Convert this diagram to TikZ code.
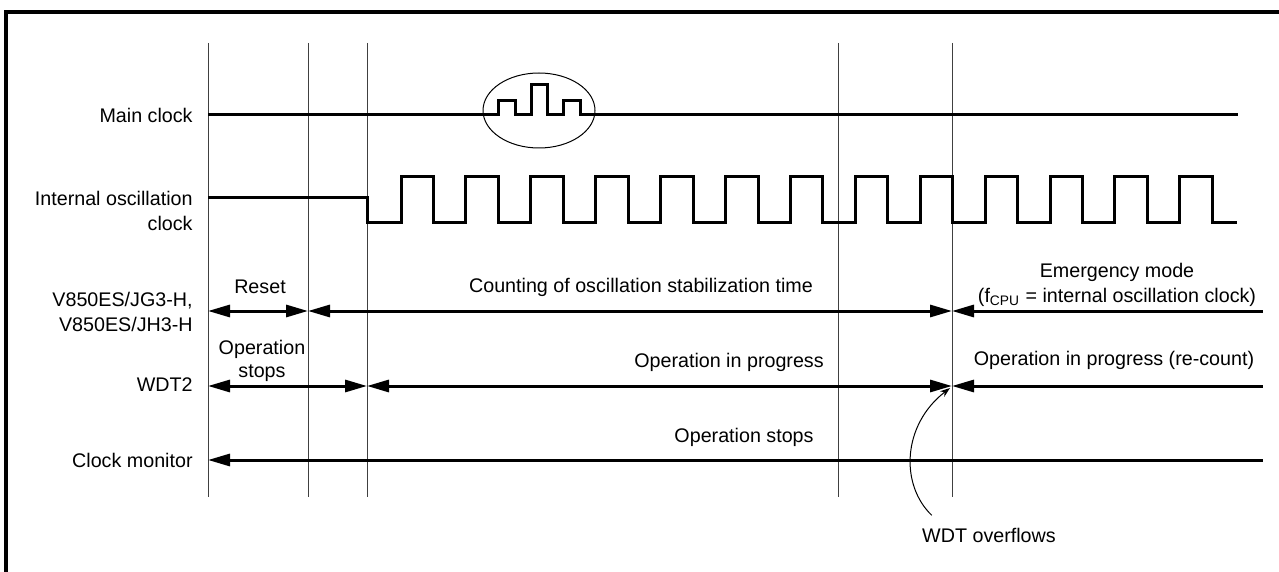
\documentclass[tikz,border=0pt]{standalone}
\usepackage{fontspec}
\setmainfont{Liberation Sans}
\usetikzlibrary{arrows.meta}

\begin{document}
\begin{tikzpicture}[x=0.5pt,y=-0.5pt,
  every node/.style={inner sep=0pt,font=\fontsize{9.85pt}{12.5pt}\selectfont},
  grid/.style={black!75,line width=0.5pt},
  signal/.style={line width=1.5pt},
  span/.style={line width=1.5pt,{Triangle[length=11pt,width=6pt]}-{Triangle[length=11pt,width=6pt]}},
  lspan/.style={line width=1.5pt,{Triangle[length=11pt,width=6pt]}-}]
\useasboundingbox (0,0) rectangle (1279,572);
\draw[line width=1.7pt] (1300,12) -- (6,12) -- (6,600);

% time marks and rows
\foreach \n/\x in {0/208,1/308,2/367,3/838,4/952}{
  \coordinate (t\n) at (\x,0);
  \draw[grid] (\x,43) -- (\x,497);
}
\coordinate (tend) at (1263,0);
\coordinate (rmain) at (0,115);  \coordinate (rcpu) at (0,311);
\coordinate (rwdt) at (0,386);   \coordinate (rmon) at (0,460);

\node[anchor=east] (lmain) at (193,115) {Main clock};
\node[anchor=east,align=right] (losc) at (193,211) {Internal oscillation\\clock};
\node[anchor=east,align=right] (lcpu) at (193,312) {V850ES/JG3-H,\\V850ES/JH3-H};
\node[anchor=east] (lwdt) at (193,385) {WDT2};
\node[anchor=east] (lmon) at (193,460) {Clock monitor};

% waveforms
\draw[signal] (t0 |- rmain) -- (498,115) -- ++(0,-14) -- ++(17,0) -- ++(0,14)
  -- (531,115) -- ++(0,-30) -- ++(16,0) -- ++(0,30)
  -- (563,115) -- ++(0,-14) -- ++(17,0) -- ++(0,14) -- (1238,115);
\draw[line width=0.5pt] (539,110.5) ellipse [x radius=28pt,y radius=18.75pt];
\draw[signal] (208,198) -- (367,198) -- (367,223)
  foreach \k in {0,...,12}{ -- ({401+64.9*\k},223) -- ++(0,-46) -- ++(32.5,0) -- ++(0,46)}
  -- (1237,223);

% states
\draw[span] (t0 |- rcpu) -- (t1 |- rcpu);
\draw[span] (t1 |- rcpu) -- (t4 |- rcpu);
\draw[lspan] (t4 |- rcpu) -- (tend |- rcpu);
\draw[span] (t0 |- rwdt) -- (t2 |- rwdt);
\draw[span] (t2 |- rwdt) -- (t4 |- rwdt);
\draw[lspan] (t4 |- rwdt) -- (tend |- rwdt);
\draw[lspan] (t0 |- rmon) -- (tend |- rmon);

\node (reset) at (260,287) {Reset};
\node (count) at (641,287) {Counting of oscillation stabilization time};
\node[align=center] (emerg) at (1117,284.5) {Emergency mode\\(f\textsubscript{CPU} = internal oscillation clock)};
\node[align=center,font=\fontsize{9.85pt}{11.5pt}\selectfont] (wstop) at (262,361) {Operation\\stops};
\node (wrun) at (729,362) {Operation in progress};
\node (wre) at (1114,360) {Operation in progress (re-count)};
\node (mstop) at (744,437) {Operation stops};

\node (ovf) at (989,535) {WDT overflows};
\coordinate (ovftip) at (t4 |- rwdt);
\draw[line width=0.5pt,-{Stealth[length=5pt,width=3.5pt]}] ([xshift=5pt,yshift=6pt]ovf.north west)
  .. controls (900,485) and (902,425) .. ([xshift=-1pt,yshift=-1pt]ovftip);
\end{tikzpicture}
\end{document}
